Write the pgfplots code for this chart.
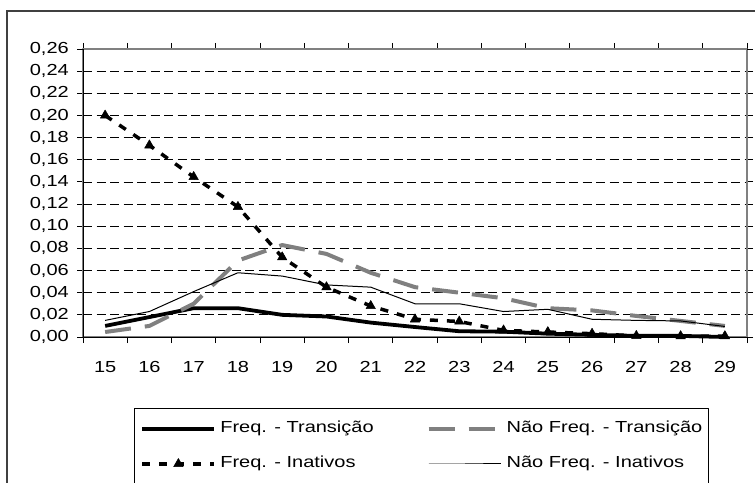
\documentclass[border=0pt]{standalone}
\usepackage{fontspec}
\setmainfont{Liberation Sans}[FakeStretch=1.25]
\usepackage{pgfplots}
\pgfplotsset{compat=1.18}
\definecolor{exgray}{RGB}{128,128,128}
\begin{document}
\fontsize{16bp}{19bp}\selectfont
\begin{tikzpicture}[x=1bp,y=1bp]
\begin{axis}[
  at={(83bp,146bp)}, anchor=south west,
  scale only axis, width=664bp, height=288bp,
  xmin=14.5, xmax=29.5, ymin=0, ymax=0.26,
  clip=false,
  xtick={15,16,17,18,19,20,21,22,23,24,25,26,27,28,29},
  minor xtick={14.5,15.5,16.5,17.5,18.5,19.5,20.5,21.5,22.5,23.5,24.5,25.5,26.5,27.5,28.5,29.5},
  ytick={0.02,0.04,0.06,0.08,0.10,0.12,0.14,0.16,0.18,0.20,0.22,0.24},
  extra y ticks={0,0.26},
  extra y tick style={grid=none},
  scaled y ticks=false,
  /pgf/number format/assume math mode=true,
  yticklabel style={/pgf/number format/fixed, /pgf/number format/fixed zerofill, /pgf/number format/precision=2, /pgf/number format/use comma, inner sep=0pt, anchor=east, xshift=-8bp},
  tick align=outside,
  major tick length=6bp, minor tick length=6bp,
  major x tick style={draw=none},
  minor x tick style={black, line width=1bp},
  major y tick style={black, line width=1bp},
  tick label style={font=\fontsize{16bp}{19bp}\selectfont},
  xticklabel style={inner sep=0pt, anchor=north, yshift=-18.5bp},
  ymajorgrids=true,
  major grid style={black, line width=0.8bp, dash pattern=on 9bp off 4.5bp},
  axis line style={exgray, line width=1.2bp},
  after end axis/.code={\draw[black, line width=1bp] (rel axis cs:0,1) -- (rel axis cs:0,0) -- (rel axis cs:1,0);},
  legend columns=2,
  legend cell align=left,
  legend style={at={(0.0768,-0.2465)}, anchor=north west, draw=black, line width=1bp,
    inner xsep=6bp, inner ysep=13bp, row sep=20bp, column sep=4bp,
    font=\fontsize{16bp}{19bp}\selectfont,
    nodes={inner sep=0pt, text height=11.5bp, text depth=3.5bp},
    /tikz/every even column/.append style={column sep=53bp}},
  legend image code/.code={\draw[mark repeat=2,mark phase=2,#1] plot coordinates {(0bp,0bp) (36bp,0bp) (72bp,0bp)};},
  line join=round,
]
\addplot[black, line width=3.8bp] coordinates {
(15,0.010) (16,0.018) (17,0.026) (18,0.026) (19,0.020) (20,0.0185) (21,0.013) (22,0.009) (23,0.0052) (24,0.0048) (25,0.003) (26,0.002) (27,0.001) (28,0.001) (29,0.000)};
\addlegendentry{Freq. - Transição}
\addplot[exgray, line width=4bp, dash pattern=on 26bp off 14bp] coordinates {
(15,0.0045) (16,0.010) (17,0.030) (18,0.069) (19,0.083) (20,0.075) (21,0.058) (22,0.045) (23,0.040) (24,0.035) (25,0.026) (26,0.024) (27,0.019) (28,0.0145) (29,0.010)};
\addlegendentry{Não Freq. - Transição}
\addplot[black, line width=3.5bp, dash pattern=on 8bp off 9bp, mark=triangle*, mark size=5.5bp, mark options={solid, line width=0.5bp}] coordinates {
(15,0.200) (16,0.173) (17,0.1445) (18,0.1175) (19,0.072) (20,0.045) (21,0.028) (22,0.016) (23,0.014) (24,0.006) (25,0.0045) (26,0.003) (27,0.001) (28,0.0008) (29,0.0008)};
\addlegendentry{Freq. - Inativos}
\addplot[black, line width=1bp] coordinates {
(15,0.015) (16,0.023) (17,0.041) (18,0.058) (19,0.055) (20,0.047) (21,0.045) (22,0.030) (23,0.030) (24,0.023) (25,0.025) (26,0.016) (27,0.015) (28,0.0145) (29,0.0095)};
\addlegendentry{Não Freq. - Inativos}
\end{axis}
\draw[line width=1.5bp, black!75] (7bp,-20bp) -- (7bp,472bp) -- (780bp,472bp);
\pgfresetboundingbox
\path[use as bounding box] (0bp,0bp) rectangle (755bp,483bp);
\end{tikzpicture}
\end{document}
